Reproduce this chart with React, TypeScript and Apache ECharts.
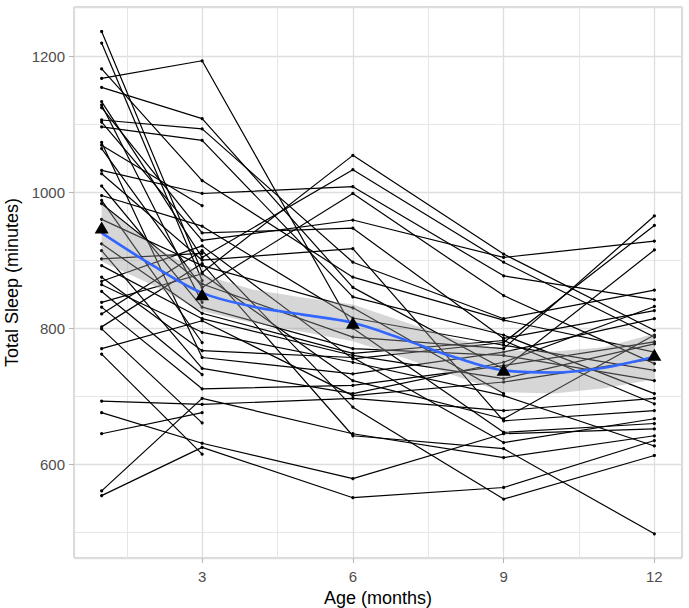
import React, { useEffect, useRef } from "react";
import * as echarts from "echarts";

// Measurement ages (months)
const ages = [1, 3, 6, 9, 12];

// Total sleep (minutes) per subject, one array per age (same subject order)
const sleepAt1 = [1236, 1219, 1181, 1167, 1154, 1133, 1128, 1124, 1106, 1103, 1096, 1073, 1069, 1064, 1032, 1027, 1009, 995, 988, 983, 960, 924, 914, 902, 892, 875, 869, 864, 854, 838, 831, 821, 802, 799, 770, 762, 693, 676, 645, 561, 554];
const sleepAt3 = [882, 870, 1017, 1193, 1108, 904, 838, 940, 1093, 929, 1076, 757, 980, 860, 998, 900, 831, 950, 779, 865, 892, 822, 741, 910, 814, 767, 921, 794, 732, 880, 711, 914, 895, 661, 811, 615, 688, 631, 676, 697, 625];
const sleepAt6 = [1054, null, 875, 800, 860, 1033, null, 947, 897, 959, 846, 733, null, 998, 1008, 917, 770, 815, null, 787, 830, 763, 704, null, 760, 757, 755, 750, null, 723, 716, 684, 642, null, 701, null, 697, 579, null, 645, 551];
const sleepAt9 = [909, null, 812, 647, 740, 897, null, 785, 814, 904, 790, 765, null, 848, 877, 664, 760, 775, null, 770, 704, 782, 750, null, 726, 632, 779, 701, null, 667, 745, 549, 623, null, 721, null, 679, 645, null, 610, 566];
const sleepAt12 = [797, null, 765, 660, 915, 787, null, 826, 856, 928, 704, 814, null, 748, 842, 679, 723, 738, null, 965, null, 689, 832, null, 777, 667, 951, 627, null, 790, 780, 613, 498, null, 755, null, 697, 652, null, 642, 635];

// Mean total sleep at each age (triangles)
const meanAges = [1, 3, 6, 9, 12];
const meanSleep = [948, 850, 808, 739, 761];

// Smoothed trend (loess) with confidence band
const smoothAges = [1, 2, 3, 4, 5, 6, 7, 8, 9, 10, 11, 12];
const smoothFit = [940, 893, 852, 832, 820, 808, 784, 758, 738, 735, 742, 758];
const smoothUpper = [982, 923, 879, 857, 845, 835, 810, 785, 768, 766, 772, 792];
const smoothLower = [898, 864, 825, 808, 795, 781, 757, 731, 706, 704, 712, 725];

const FONT = "'Liberation Sans', Arial, sans-serif";

export default function App() {
  const ref = useRef<HTMLDivElement>(null);

  useEffect(() => {
    if (!ref.current) return;
    const chart = echarts.init(ref.current, null, { renderer: "svg" });
    const columns = [sleepAt1, sleepAt3, sleepAt6, sleepAt9, sleepAt12];

    const subjectSeries = sleepAt1.map((_, i) => ({
      type: "line",
      data: ages
        .map((a, k) => [a, columns[k][i]])
        .filter((p) => p[1] !== null && p[1] !== undefined),
      symbol: "circle",
      symbolSize: 3.2,
      showSymbol: true,
      lineStyle: { color: "#000000", width: 1.2 },
      itemStyle: { color: "#000000", opacity: 1 },
      silent: true,
      emphasis: { disabled: true },
      z: 2,
    }));

    const plainLabel = (v: number) => String(Math.round(v * 100) / 100);

    const option = {
      animation: false,
      backgroundColor: "#ffffff",
      grid: {
        left: 74,
        top: 7,
        width: 608,
        height: 551,
        show: true,
        borderColor: "#b3b3b3",
        borderWidth: 1,
        backgroundColor: "#ffffff",
        containLabel: false,
        outerBoundsMode: "none",
      },
      xAxis: {
        type: "value",
        min: 0.45,
        max: 12.55,
        splitNumber: 4,
        name: "Age (months)",
        nameLocation: "middle",
        nameGap: 28,
        nameTextStyle: { fontFamily: FONT, fontSize: 18, color: "#000000" },
        axisLine: { show: false },
        axisTick: { show: true, length: 5, lineStyle: { color: "#b3b3b3", width: 1 } },
        axisLabel: {
          show: true,
          margin: 11,
          fontFamily: FONT,
          fontSize: 15,
          color: "#4d4d4d",
          showMinLabel: false,
          showMaxLabel: false,
          formatter: plainLabel,
        },
        splitLine: { show: true, lineStyle: { color: "#dedede", width: 1.3 } },
        minorTick: { show: false, splitNumber: 2 },
        minorSplitLine: { show: true, lineStyle: { color: "#e6e6e6", width: 1 } },
      },
      yAxis: {
        type: "value",
        min: 462.4,
        max: 1272,
        splitNumber: 5,
        name: "Total Sleep (minutes)",
        nameLocation: "middle",
        nameGap: 35,
        nameTextStyle: { fontFamily: FONT, fontSize: 18, color: "#000000" },
        axisLine: { show: false },
        axisTick: { show: true, length: 5, lineStyle: { color: "#b3b3b3", width: 1 } },
        axisLabel: {
          show: true,
          margin: 9,
          fontFamily: FONT,
          fontSize: 15,
          color: "#4d4d4d",
          showMinLabel: false,
          showMaxLabel: false,
          formatter: plainLabel,
        },
        splitLine: { show: true, lineStyle: { color: "#dedede", width: 1.3 } },
        minorTick: { show: false, splitNumber: 2 },
        minorSplitLine: { show: true, lineStyle: { color: "#e6e6e6", width: 1 } },
      },
      series: [
        ...subjectSeries,
        {
          type: "custom",
          data: [[smoothAges[0], smoothFit[0]]],
          silent: true,
          z: 3,
          renderItem: (_params: any, api: any) => {
            const pts: number[][] = [];
            smoothAges.forEach((a, i) => pts.push(api.coord([a, smoothUpper[i]])));
            for (let i = smoothAges.length - 1; i >= 0; i--) {
              pts.push(api.coord([smoothAges[i], smoothLower[i]]));
            }
            return {
              type: "polygon",
              shape: { points: pts },
              style: { fill: "#999999", opacity: 0.4 },
              silent: true,
            };
          },
        },
        {
          type: "line",
          data: smoothAges.map((a, i) => [a, smoothFit[i]]),
          smooth: 0.35,
          symbol: "none",
          lineStyle: { color: "#3366ff", width: 2.6 },
          silent: true,
          emphasis: { disabled: true },
          z: 4,
        },
        {
          type: "scatter",
          data: meanAges.map((a, i) => [a, meanSleep[i]]),
          symbol: "triangle",
          symbolSize: [14, 12],
          itemStyle: { color: "#000000", opacity: 1 },
          silent: true,
          emphasis: { disabled: true },
          z: 5,
        },
      ],
    };

    chart.setOption(option as any);
    return () => chart.dispose();
  }, []);

  return (
    <div
      ref={ref}
      style={{ position: "fixed", left: 0, top: 0, width: 689, height: 608, background: "#ffffff" }}
    />
  );
}
